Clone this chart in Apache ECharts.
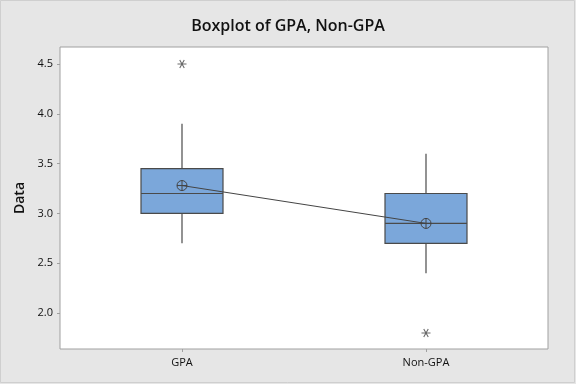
<!DOCTYPE html>
<html>
<head>
<meta charset="utf-8">
<script src="https://cdn.jsdelivr.net/npm/echarts@6/dist/echarts.min.js"></script>
<style>
html,body{margin:0;padding:0;background:#e6e6e6;}
#c{width:576px;height:384px;}
</style>
</head>
<body>
<div id="c"></div>
<script>
// Data
var categories = ['GPA', 'Non-GPA'];
// [min whisker, Q1, median, Q3, max whisker]
var boxGPA = [2.7, 3.0, 3.2, 3.45, 3.9];
var boxNonGPA = [2.4, 2.7, 2.9, 3.2, 3.6];
var means = [3.28, 2.9];
var outliers = [[0, 4.5], [1, 1.8]];
var yTicks = [2.0, 2.5, 3.0, 3.5, 4.0, 4.5];

var boxData = [[0].concat(boxGPA), [1].concat(boxNonGPA)];

var chart = echarts.init(document.getElementById('c'), null, {renderer: 'canvas'});
var font = '"Open Sans", "Noto Sans", sans-serif';
var BOX_W = 82;
function renderBox(params, api) {
  var x = api.value(0);
  var pMin = api.coord([x, api.value(1)]);
  var pQ1 = api.coord([x, api.value(2)]);
  var pMed = api.coord([x, api.value(3)]);
  var pQ3 = api.coord([x, api.value(4)]);
  var pMax = api.coord([x, api.value(5)]);
  var cx = pMin[0];
  var half = BOX_W / 2;
  var stroke = {stroke: '#4a4a4a', lineWidth: 1.2, fill: 'none'};
  return {
    type: 'group',
    children: [
      {type: 'line', shape: {x1: cx, y1: pMax[1], x2: cx, y2: pQ3[1]}, style: stroke},
      {type: 'line', shape: {x1: cx, y1: pQ1[1], x2: cx, y2: pMin[1]}, style: stroke},
      {type: 'rect', shape: {x: cx - half, y: pQ3[1], width: BOX_W, height: pQ1[1] - pQ3[1]},
        style: {fill: '#7ba7da', stroke: '#4a4a4a', lineWidth: 1.2}},
      {type: 'line', shape: {x1: cx - half, y1: pMed[1], x2: cx + half, y2: pMed[1]}, style: stroke}
    ]
  };
}
var option = {
  backgroundColor: '#e6e6e6',
  animation: false,
  title: {
    text: 'Boxplot of GPA, Non-GPA',
    left: 'center',
    top: 13,
    textStyle: {fontFamily: font, fontSize: 16, fontWeight: 600, color: '#111'}
  },
  graphic: [{
    type: 'rect',
    shape: {x: 0.5, y: 0.5, width: 574, height: 382},
    style: {fill: 'none', stroke: '#cfcfcf', lineWidth: 1},
    silent: true
  }],
  grid: {
    left: 60, right: 28, top: 47, bottom: 35,
    show: true, backgroundColor: '#ffffff', borderColor: '#a0a0a0', borderWidth: 1
  },
  xAxis: {
    type: 'category',
    data: categories,
    boundaryGap: true,
    axisLine: {show: false},
    axisTick: {show: true, alignWithLabel: true, length: 3, lineStyle: {color: '#a0a0a0'}},
    axisLabel: {fontFamily: font, fontSize: 11, color: '#111', margin: 8},
    splitLine: {show: false}
  },
  yAxis: {
    type: 'value',
    min: 1.64,
    max: 4.67,
    name: 'Data',
    nameLocation: 'middle',
    nameGap: 33,
    nameTextStyle: {fontFamily: font, fontSize: 14, fontWeight: 600, color: '#111'},
    axisLine: {show: false},
    axisTick: {show: true, length: 3, lineStyle: {color: '#a0a0a0'}, customValues: yTicks},
    axisLabel: {
      fontFamily: font, fontSize: 11, color: '#111', margin: 7,
      customValues: yTicks,
      formatter: function (v) { return v.toFixed(1); }
    },
    splitLine: {show: false}
  },
  series: [
    {
      type: 'custom',
      data: boxData,
      encode: {x: 0, y: [1, 2, 3, 4, 5]},
      renderItem: renderBox,
      z: 2
    },
    {
      type: 'line',
      data: means,
      symbol: 'path://M0,-10A10,10 0 1 1 0,10A10,10 0 1 1 0,-10ZM-10,0L10,0M0,-10L0,10',
      symbolSize: 10,
      itemStyle: {color: 'rgba(0,0,0,0)', borderColor: '#444', borderWidth: 1},
      lineStyle: {color: '#444', width: 1},
      emphasis: {disabled: true},
      z: 5
    },
    {
      type: 'scatter',
      data: outliers,
      symbol: 'path://M-5,0L5,0M-2.5,-4.3L2.5,4.3M2.5,-4.3L-2.5,4.3',
      symbolSize: [9, 8],
      itemStyle: {color: 'rgba(0,0,0,0)', borderColor: '#444', borderWidth: 1},
      emphasis: {disabled: true},
      z: 5
    }
  ]
};
chart.setOption(option);
</script>
</body>
</html>
